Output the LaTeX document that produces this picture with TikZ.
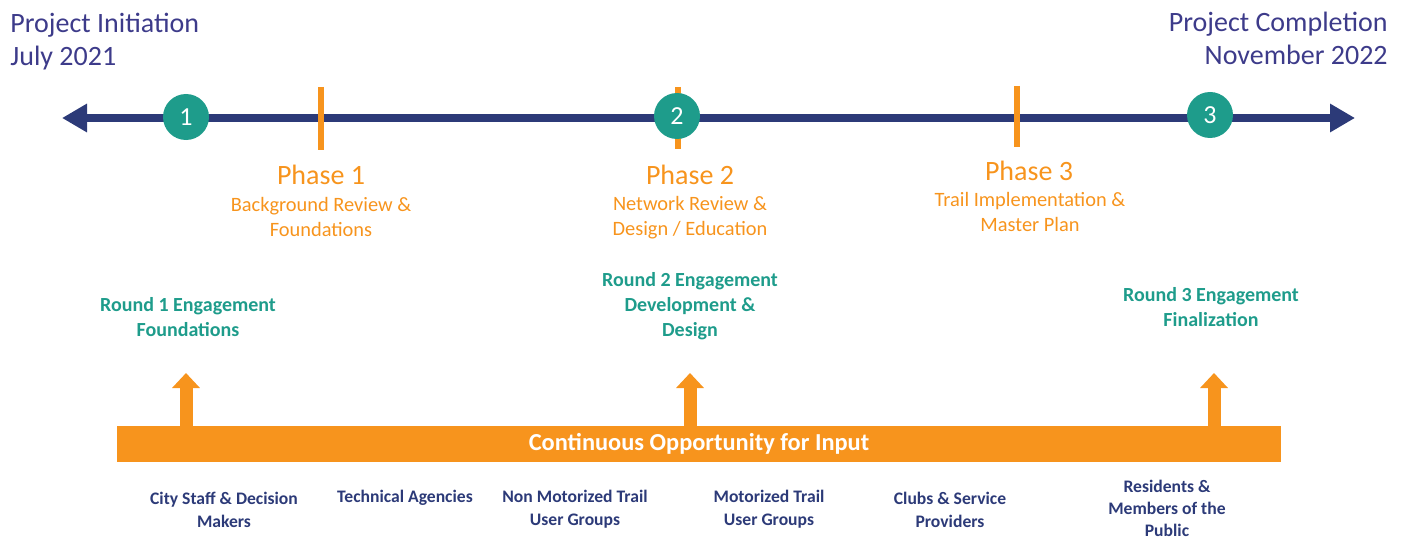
\documentclass[tikz,border=0pt]{standalone}
\usepackage{fontspec}
\setmainfont{Carlito}
\usetikzlibrary{arrows.meta}

\definecolor{linenavy}{HTML}{2C3A78}
\definecolor{headblue}{HTML}{3D3B8A}
\definecolor{roundteal}{HTML}{1E9C8B}
\definecolor{phaseorange}{HTML}{F7941D}

\tikzset{
  header/.style={inner sep=0pt, text=headblue, font=\fontsize{14}{16.5}\selectfont},
  marker/.style={circle, fill=roundteal, minimum size=23pt, inner sep=0pt,
    text=white, font=\fontsize{13}{15}\selectfont},
  phasetick/.style={phaseorange, line width=3pt},
  phase/.style={inner sep=0pt, text=phaseorange, font=\fontsize{14}{16}\selectfont},
  phasesub/.style={inner sep=0pt, align=center, text=phaseorange,
    font=\fontsize{10.2}{12.5}\selectfont},
  engage/.style={inner sep=0pt, align=center, text=roundteal,
    font=\bfseries\fontsize{10}{12.5}\selectfont},
  inputbar/.style={fill=phaseorange, minimum width=582pt, minimum height=18pt,
    inner sep=0pt, text=white, font=\bfseries\fontsize{12.2}{14}\selectfont},
  uparrow/.style={phaseorange, line width=6.5pt, -{Triangle[length=7.5pt,width=13.5pt]}},
  group/.style={inner sep=0pt, align=center, text=linenavy,
    font=\bfseries\fontsize{8.8}{11.5}\selectfont}
}

\begin{document}
\begin{tikzpicture}[x=0.5pt,y=-0.5pt]
\useasboundingbox (0,0) rectangle (1407,540);

% start and end of project
\node[header, anchor=west, align=left] (start) at (10,42) {Project Initiation\\July 2021};
\node[header, anchor=east, align=right] (finish) at (1388,38) {Project Completion\\November 2022};

% time line
\coordinate (west end) at (62,118);
\coordinate (east end) at (1355,118);
\draw[linenavy, line width=4pt,
  {Triangle[length=12.5pt,width=13.5pt]}-{Triangle[length=12.5pt,width=13.5pt]}]
  (west end) -- (east end);

% phase ticks
\draw[phasetick] (321,87) -- (321,150);
\draw[phasetick] (678,87) -- (678,149);
\draw[phasetick] (1017,86) -- (1017,147);

% engagement rounds
\node[marker] (m1) at (186,117) {1};
\node[marker] (m2) at (677,116) {2};
\node[marker] (m3) at (1210,115) {3};

% phases
\node[phase] (ph1) at (321,175) {Phase 1};
\node[phasesub] (ph1 sub) at (321,217) {Background Review \&\\Foundations};
\node[phase] (ph2) at (690,175) {Phase 2};
\node[phasesub] (ph2 sub) at (690,217.5) {Network Review \&\\Design / Education};
\node[phase] (ph3) at (1029,171) {Phase 3};
\node[phasesub] (ph3 sub) at (1030,212) {Trail Implementation \&\\Master Plan};

% what each round covers
\node[engage] (eng1) at (188,317.5) {Round 1 Engagement\\Foundations};
\node[engage] (eng2) at (690,306) {Round 2 Engagement\\Development \&\\Design};
\node[engage] (eng3) at (1211,307.5) {Round 3 Engagement\\Finalization};

% input bar and arrows
\node[inputbar] (bar) at (699,444) {Continuous Opportunity for Input};
\coordinate (up1) at (186,373);
\coordinate (up2) at (690,373);
\coordinate (up3) at (1214,373);
\draw[uparrow] (bar.north -| up1) -- (up1);
\draw[uparrow] (bar.north -| up2) -- (up2);
\draw[uparrow] (bar.north -| up3) -- (up3);

% who gives input
\node[group] (g1) at (224,509.5) {City Staff \& Decision\\Makers};
\node[group] (g2) at (405,498) {Technical Agencies};
\node[group] (g3) at (575,509.5) {Non Motorized Trail\\User Groups};
\node[group] (g4) at (769,509.5) {Motorized Trail\\User Groups};
\node[group] (g5) at (950,509.5) {Clubs \& Service\\Providers};
\node[group, font=\bfseries\fontsize{8.8}{11}\selectfont] (g6) at (1167,508.5) {Residents \&\\Members of the\\Public};

\end{tikzpicture}
\end{document}
